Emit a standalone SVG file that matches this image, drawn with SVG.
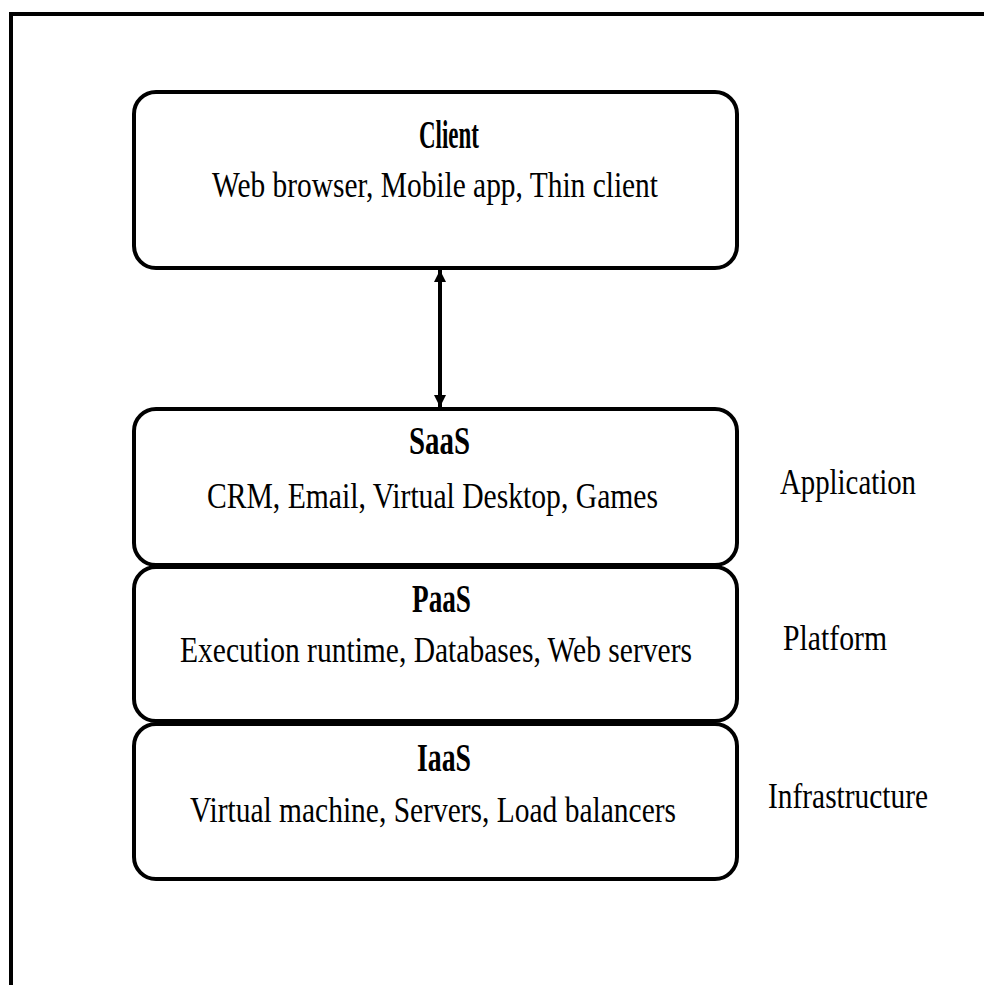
<svg xmlns="http://www.w3.org/2000/svg" width="984" height="985" viewBox="0 0 984 985">
<defs>
<style>
.frame{fill:none;stroke:#000;stroke-width:4}
.box{fill:#fff;stroke:#000;stroke-width:4}
.t{font-family:"Liberation Serif","Times New Roman",serif;font-weight:bold;font-size:41px;fill:#000}
.s{font-family:"Liberation Serif","Times New Roman",serif;font-size:35px;fill:#000}
.conn{stroke:#000;stroke-width:4;fill:none}
</style>
<marker id="ah" viewBox="0 0 10 10" refX="10" refY="5" markerWidth="3" markerHeight="3" orient="auto-start-reverse" markerUnits="strokeWidth">
<path d="M0,0 L10,5 L0,10 z" fill="#000"/>
</marker>
</defs>
<rect width="984" height="985" fill="#fff"/>
<path class="frame" d="M11,985 L11,14 L984,14"/>
<g id="client">
<rect class="box" x="134" y="92" width="603" height="176" rx="22"/>
<text class="t" x="419" y="148" textLength="60" lengthAdjust="spacingAndGlyphs">Client</text>
<text class="s" x="212" y="197" textLength="446" lengthAdjust="spacingAndGlyphs">Web browser, Mobile app, Thin client</text>
</g>
<g id="saas">
<rect class="box" x="134" y="409" width="603" height="156" rx="22"/>
<text class="t" x="409" y="454" textLength="61" lengthAdjust="spacingAndGlyphs">SaaS</text>
<text class="s" x="207" y="508" textLength="451" lengthAdjust="spacingAndGlyphs">CRM, Email, Virtual Desktop, Games</text>
</g>
<g id="paas">
<rect class="box" x="134" y="567" width="603" height="154" rx="22"/>
<text class="t" x="412" y="612" textLength="59" lengthAdjust="spacingAndGlyphs">PaaS</text>
<text class="s" x="180" y="662" textLength="512" lengthAdjust="spacingAndGlyphs">Execution runtime, Databases, Web servers</text>
</g>
<g id="iaas">
<rect class="box" x="134" y="724" width="603" height="155" rx="22"/>
<text class="t" x="417" y="771" textLength="54" lengthAdjust="spacingAndGlyphs">IaaS</text>
<text class="s" x="190" y="822" textLength="486" lengthAdjust="spacingAndGlyphs">Virtual machine, Servers, Load balancers</text>
</g>
<g id="labels">
<text class="s" x="780" y="494" textLength="136" lengthAdjust="spacingAndGlyphs">Application</text>
<text class="s" x="783" y="650" textLength="104" lengthAdjust="spacingAndGlyphs">Platform</text>
<text class="s" x="768" y="808" textLength="160" lengthAdjust="spacingAndGlyphs">Infrastructure</text>
</g>
<g id="connectors">
<line class="conn" x1="440" y1="270" x2="440" y2="407" marker-start="url(#ah)" marker-end="url(#ah)"/>
</g>
</svg>
